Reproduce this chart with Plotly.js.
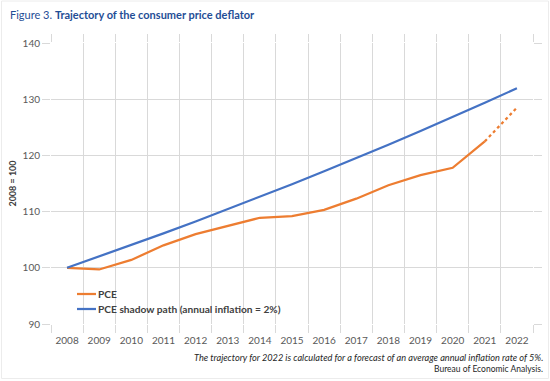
<!DOCTYPE html>
<html>
<head>
<meta charset="utf-8">
<script src="https://cdn.plot.ly/plotly-3.0.1.min.js"></script>
<style>html,body{margin:0;padding:0;background:#fff;}#chart{width:550px;height:381px;}</style>
</head>
<body>
<div id="chart"></div>
<script>
const years = ['2008','2009','2010','2011','2012','2013','2014','2015','2016','2017','2018','2019','2020','2021','2022'];
const pce = [100, 99.7, 101.4, 104.0, 106.0, 107.4, 108.9, 109.2, 110.3, 112.3, 114.7, 116.5, 117.8, 122.5, null];
const pceForecastYears = ['2021','2022'];
const pceForecast = [122.5, 128.5];
const shadow = [100, 102, 104.04, 106.12, 108.24, 110.41, 112.62, 114.87, 117.17, 119.51, 121.9, 124.34, 126.82, 129.36, 131.95];
const yTicks = [90, 100, 110, 120, 130, 140];
const legendNames = ['PCE', 'PCE shadow path (annual inflation = 2%)'];

const FONT = 'Lato, "Open Sans", sans-serif';
const ORANGE = '#ED7D31', BLUE = '#4472C4', GRID = '#d9d9d9';

const traces = [
  {x: years, y: pce, type: 'scatter', mode: 'lines', name: legendNames[0],
   line: {color: ORANGE, width: 2.25}, connectgaps: false},
  {x: years, y: shadow, type: 'scatter', mode: 'lines', name: legendNames[1],
   line: {color: BLUE, width: 2.25}},
  {x: pceForecastYears, y: pceForecast, type: 'scatter', mode: 'lines', showlegend: false,
   line: {color: ORANGE, width: 2.25, dash: 'dot'}}
];

const L = 51, R = 17, T = 43, B = 57;
const W = 550 - L - R, H = 381 - T - B;
const px = v => (v - L) / W;
const py = v => 1 - (v - T) / H;

const legendColors = [ORANGE, BLUE];
const legendY = [294, 309];
const legendShapes = legendY.map((yy, i) => ({type: 'line', xref: 'paper', yref: 'paper',
  x0: px(77), x1: px(96), y0: py(yy), y1: py(yy), line: {color: legendColors[i], width: 2.25}}));
const legendAnn = legendY.map((yy, i) => ({xref: 'paper', yref: 'paper', x: px(96), y: py(yy),
  xanchor: 'left', yanchor: 'middle', showarrow: false, text: '<b>' + legendNames[i] + '</b>',
  font: {family: FONT, size: 10.2, color: '#404040'}}));

const layout = {
  width: 550, height: 381,
  margin: {l: L, r: R, t: T, b: B, pad: 0},
  paper_bgcolor: '#ffffff', plot_bgcolor: '#ffffff',
  font: {family: FONT, size: 10, color: '#595959'},
  showlegend: false,
  xaxis: {type: 'category', range: [-0.5, 14.5], tickson: 'boundaries', tickangle: 0,
    showgrid: true, gridcolor: GRID, gridwidth: 1,
    ticks: 'outside', ticklen: 8, tickcolor: GRID, tickwidth: 1, mirror: 'ticks',
    ticklabelstandoff: 9,
    showline: false, zeroline: false, fixedrange: true,
    tickfont: {family: FONT, size: 10, color: '#595959'}},
  yaxis: {range: [90, 140], tickvals: yTicks, ticktext: yTicks.map(String),
    showgrid: true, gridcolor: GRID, gridwidth: 1,
    ticks: 'outside', ticklen: 8, tickcolor: GRID, tickwidth: 1, mirror: 'ticks',
    showline: false, zeroline: false, fixedrange: true,
    tickfont: {family: FONT, size: 10, color: '#595959'},
    title: {text: '<b>2008 = 100</b>', standoff: 4, font: {family: FONT, size: 9, color: '#404040'}}},
  annotations: [
    {xref: 'paper', yref: 'paper', x: px(8), y: py(14), xanchor: 'left', yanchor: 'middle', showarrow: false,
     text: 'Figure 3. <b>Trajectory of the consumer price deflator</b>',
     font: {family: FONT, size: 11, color: '#1f4e96'}},
    {xref: 'paper', yref: 'paper', x: px(545), y: py(357), xanchor: 'right', yanchor: 'middle', showarrow: false,
     text: '<i>The trajectory for 2022 is calculated for a forecast of an average annual inflation rate of 5%.</i>',
     font: {family: FONT, size: 9.2, color: '#262626'}},
    {xref: 'paper', yref: 'paper', x: px(545), y: py(369), xanchor: 'right', yanchor: 'middle', showarrow: false,
     text: 'Bureau of Economic Analysis.',
     font: {family: FONT, size: 8.5, color: '#262626'}}
  ].concat(legendAnn),
  shapes: [
    {type: 'rect', xref: 'paper', yref: 'paper', x0: px(1.5), x1: px(548.5), y0: py(1), y1: py(378.5),
     line: {color: '#ececec', width: 1}, fillcolor: 'rgba(0,0,0,0)', layer: 'below'}
  ].concat(legendShapes)
};

Plotly.newPlot('chart', traces, layout, {displayModeBar: false, staticPlot: true});
</script>
</body>
</html>
